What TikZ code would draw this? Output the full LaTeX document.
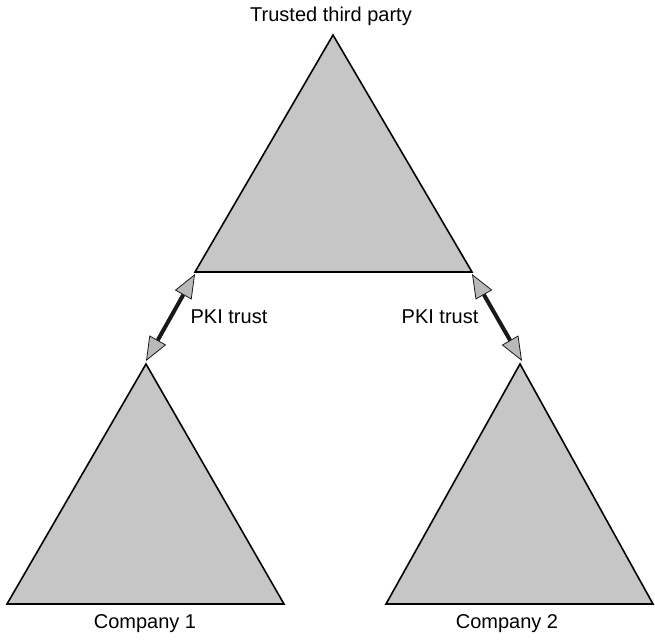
\documentclass[tikz,border=0pt]{standalone}
\usepackage{fontspec}
\setmainfont{Liberation Sans}
\usepackage{tikz}
\tikzset{font=\fontsize{20}{23}\selectfont}
\usetikzlibrary{positioning,arrows.meta}

\begin{document}
\begin{tikzpicture}[x=1pt, y=-1pt]
		\tikzstyle{tree} = [draw=black, line width=1.6pt, fill=gray!45, line join=miter];
		\tikzstyle{label} = [align=center, inner sep=0pt];
		\tikzstyle{trust} = [draw=black!90, line width=4pt,
			{Triangle[length=24pt, width=19pt, fill=gray!55, line width=0.8pt]}-{Triangle[length=24pt, width=19pt, fill=gray!55, line width=0.8pt]}];
		\useasboundingbox (0,0) rectangle (655,640);
		
		% the three hierarchies
		\coordinate (ttp top) at (333,35);
		\coordinate (ttp left) at (195,272);
		\coordinate (ttp right) at (472,272);
		\coordinate (c1 top) at (146,364);
		\coordinate (c1 left) at (7,604);
		\coordinate (c1 right) at (284,604);
		\coordinate (c2 top) at (520,364);
		\coordinate (c2 left) at (386,604);
		\coordinate (c2 right) at (653,604);
		
		\path[tree] (ttp top) -- (ttp right) -- (ttp left) -- cycle;
		\path[tree] (c1 top) -- (c1 right) -- (c1 left) -- cycle;
		\path[tree] (c2 top) -- (c2 right) -- (c2 left) -- cycle;
		
		\node[label] at (331,16) (ttp){Trusted third party};
		
		% arrow ends
		\coordinate (trust1 a) at (195,274);
		\coordinate (trust1 b) at (146,361);
		\coordinate (trust2 a) at (472,274);
		\coordinate (trust2 b) at (522,361);
		
		\path[trust] (trust1 a) -- (trust1 b);
		\path[trust] (trust2 a) -- (trust2 b);
		
		\node[label] at (229,317) (pki1){PKI trust};
		\node[label] at (440,317) (pki2){PKI trust};
		\node[label] at (145,624) (company1){Company 1};
		\node[label] at (507,624) (company2){Company 2};
		\end{tikzpicture}
\end{document}
